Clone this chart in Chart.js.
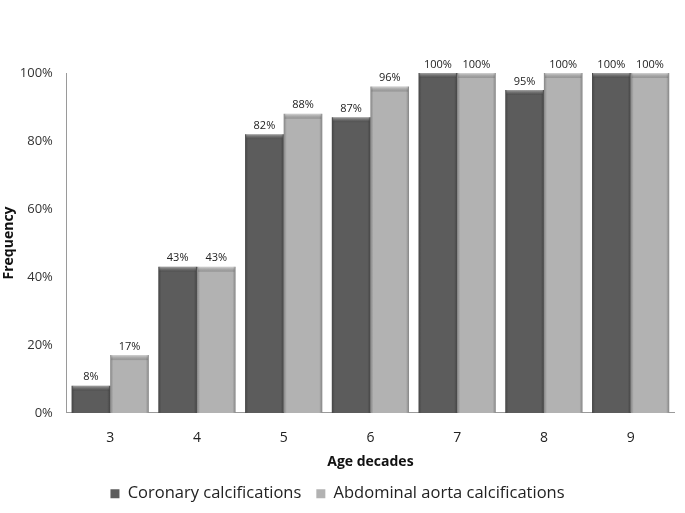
<!DOCTYPE html>
<html><head><meta charset="utf-8">
<script src="https://cdn.jsdelivr.net/npm/chart.js@4/dist/chart.umd.min.js"></script>
<style>html,body{margin:0;padding:0;background:#fff}#wrap{width:685px;height:513px}</style>
</head><body><div id="wrap"><canvas id="c"></canvas></div>
<script>
const categories = ['3','4','5','6','7','8','9'];
const coronary = [8,43,82,87,100,95,100];
const aorta = [17,43,88,96,100,100,100];
const yTicks = [0,20,40,60,80,100];
const seriesNames = ['Coronary calcifications','Abdominal aorta calcifications'];
const FONT = "'Open Sans', 'Liberation Sans', sans-serif";

const bevel = {
  id:'bevel',
  afterDatasetsDraw(chart){
    const ctx = chart.ctx;
    chart.data.datasets.forEach((ds,i)=>{
      const meta = chart.getDatasetMeta(i);
      meta.data.forEach((bar,j)=>{
        const w = bar.width, l = bar.x - w/2, r = bar.x + w/2, t = bar.y, b = bar.base;
        ctx.save();
        const g = ctx.createLinearGradient(l,0,r,0);
        g.addColorStop(0,'rgba(0,0,0,0.25)');
        g.addColorStop(0.08,'rgba(0,0,0,0)');
        g.addColorStop(0.92,'rgba(0,0,0,0)');
        g.addColorStop(1,'rgba(0,0,0,0.25)');
        ctx.fillStyle = g;
        ctx.fillRect(l,t,w,b-t);
        const gt = ctx.createLinearGradient(0,t,0,t+6);
        gt.addColorStop(0,'rgba(255,255,255,0.45)');
        gt.addColorStop(1,'rgba(0,0,0,0.15)');
        ctx.fillStyle = gt;
        ctx.fillRect(l+1,t,w-2,5);
        ctx.restore();
        ctx.save();
        ctx.fillStyle = '#222';
        ctx.font = "11px " + FONT;
        ctx.textAlign = 'center';
        ctx.textBaseline = 'bottom';
        ctx.fillText(ds.data[j] + '%', bar.x, t - 3);
        ctx.restore();
      });
    });
  }
};

new Chart(document.getElementById('c'), {
  type:'bar',
  data:{
    labels: categories,
    datasets:[
      {label:seriesNames[0], data:coronary, backgroundColor:'#5c5c5c', borderWidth:0},
      {label:seriesNames[1], data:aorta, backgroundColor:'#b2b2b2', borderWidth:0}
    ]
  },
  options:{
    responsive:true, maintainAspectRatio:false, animation:false,
    layout:{padding:{top:73,left:1,right:11,bottom:1}},
    datasets:{bar:{categoryPercentage:0.89,barPercentage:1}},
    plugins:{
      legend:{position:'bottom',labels:{font:{family:FONT,size:16.5},color:'#222',boxWidth:9,boxHeight:9,padding:15}},
      tooltip:{enabled:false}
    },
    scales:{
      x:{
        grid:{display:false,drawTicks:true,tickLength:12},
        border:{display:true,color:'#9a9a9a'},
        ticks:{font:{family:FONT,size:14},color:'#222',padding:5},
        title:{display:true,text:'Age decades',font:{family:FONT,size:14,weight:'bold'},color:'#111',padding:{top:2,bottom:0}}
      },
      y:{
        min:0,max:100,
        afterBuildTicks(axis){axis.ticks = yTicks.map(v=>({value:v}));},
        grid:{display:false,drawTicks:true,tickLength:12},
        border:{display:true,color:'#9a9a9a'},
        ticks:{font:{family:FONT,size:13},color:'#333',padding:2,callback:v=>v+'%'},
        title:{display:true,text:'Frequency',font:{family:FONT,size:14,weight:'bold'},color:'#111',padding:{top:0,bottom:0}}
      }
    }
  },
  plugins:[bevel]
});
</script></body></html>
